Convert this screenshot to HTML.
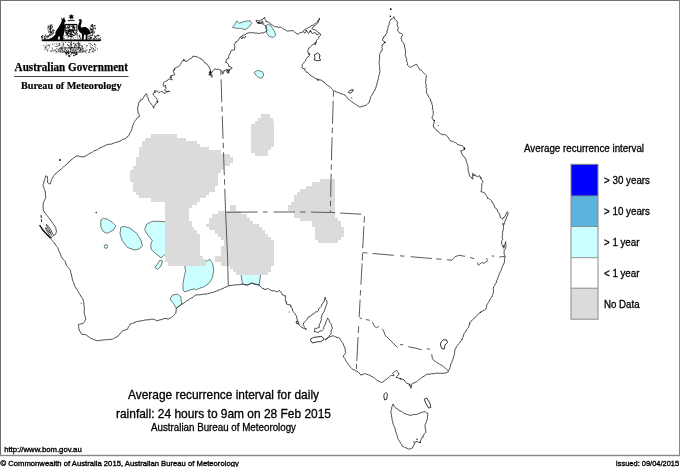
<!DOCTYPE html>
<html>
<head>
<meta charset="utf-8">
<title>Average recurrence interval for daily rainfall</title>
<style>
html,body{margin:0;padding:0;background:#fff;}
body{width:680px;height:467px;overflow:hidden;font-family:"Liberation Sans",sans-serif;}
svg{display:block;position:absolute;left:0;top:0;will-change:transform;}
text{font-family:"Liberation Sans",sans-serif;fill:#000;}
.serif{font-family:"Liberation Serif",serif;font-weight:bold;}
.coast{fill:none;stroke:#1c1c1c;stroke-width:0.8;stroke-linejoin:miter;stroke-miterlimit:2;}
.isl{fill:#fff;stroke:#000;stroke-width:0.8;stroke-linejoin:round;}
.bord{fill:none;stroke:#5a5a5a;stroke-width:1;}
.bsol{fill:none;stroke:#5a5a5a;stroke-width:1;stroke-linejoin:round;}
.bord2{fill:none;stroke:#444;stroke-width:1;stroke-dasharray:9 5;}
.gray{fill:#dbdbdb;stroke:none;}
.cy{fill:#ccffff;stroke:#4c5c5c;stroke-width:0.8;stroke-linejoin:round;}
</style>
</head>
<body>
<svg width="680" height="467" viewBox="0 0 680 467">

<!-- ===== cyan (> 1 year) areas ===== -->
<g class="cy" id="cyan">
<path d="M232.5,27.5 L235,24.2 L236.7,20.8 L239.2,23.3 L245,21.3 L250,20.8 L251.7,23.3 L249.2,26.7 L245,29.7 L240.8,28.3 L236.7,28.3 Z"/>
<path d="M265.8,25.8 L268.3,24.2 L270.8,25.8 L274.2,30.8 L275.8,35 L273.3,37.5 L269.2,36.3 L266.7,33.3 L266.3,29.2 Z"/>
<path d="M254.2,72.5 L257.5,70.3 L262.5,71.7 L263.8,75 L261.7,78.3 L258.3,77.5 L255.8,75 Z"/>
<path d="M100.8,220 L103.3,218.3 L107.5,219.2 L112.5,222.5 L115.8,225.8 L113.3,230 L107.5,233.3 L103.3,231.7 L100.8,226.7 Z"/>
<path d="M120.8,227.5 L124.2,226.3 L130,228.3 L136.7,233.3 L140.8,240 L142.5,246 L139,249 L135,250 L127.5,247.5 L122.5,241 L120,234 Z"/>
<path d="M144.6,229.6 L146.8,224.1 L152.3,221.4 L158,221.3 L167,221.9 L167,254 L164.8,254.5 L161.2,257.8 L156.7,254.4 L151.2,249.5 L150.7,244 L152.3,240.7 L147.9,235.2 Z"/>
<path d="M155,267.5 L160,260 L162.5,261 L161,266 L157.5,269.5 Z"/>
<path d="M186.7,261 L206.7,261 L207.5,260.8 L209.7,259.2 L212.5,263.3 L213.8,270 L212.5,277.5 L209.2,283.3 L204.2,286.7 L198.3,288.7 L195.8,290 L194.2,288.7 L190,290 L185,292 L183,290 L183,283.3 L184.2,276.7 L185.8,270 L184.7,268 Z"/>
<path d="M170,299.2 L172.5,295 L177.5,294.2 L180.8,296.7 L181.7,304.2 L176.3,308.3 L173.3,303.3 Z"/>
<path d="M240.8,273 L260.8,273 L259.2,285 L255,284.2 L251.7,283 L247.5,285 L242.5,284.2 Z"/>
<circle cx="106" cy="246.5" r="1.8"/>
</g>

<!-- ===== NO DATA (grey) areas ===== -->
<g class="gray" id="nodata">
<path shape-rendering="crispEdges" d="M150.5,134.3h26.4v3.25h-26.4zM144.6,137.5h41.0v3.25h-41.0zM141.7,140.7h55.7v3.25h-55.7zM141.7,143.9h58.6v3.25h-58.6zM138.8,147.1h70.3v3.25h-70.3zM138.8,150.3h82.0v3.25h-82.0zM138.8,153.5h90.8v3.25h-90.8zM135.8,156.7h96.7v3.25h-96.7zM135.8,159.9h96.7v3.25h-96.7zM135.8,163.1h93.8v3.25h-93.8zM132.9,166.3h90.8v3.25h-90.8zM130.0,169.5h90.8v3.25h-90.8zM130.0,172.7h87.9v3.25h-87.9zM130.0,175.9h87.9v3.25h-87.9zM130.0,179.1h87.9v3.25h-87.9zM132.9,182.3h85.0v3.25h-85.0zM132.9,185.5h82.0v3.25h-82.0zM132.9,188.7h82.0v3.25h-82.0zM135.8,191.9h73.2v3.25h-73.2zM138.8,195.1h67.4v3.25h-67.4zM150.5,198.3h49.8v3.25h-49.8zM165.1,201.5h32.2v3.25h-32.2zM165.1,204.7h26.4v3.25h-26.4zM165.1,207.9h23.4v3.25h-23.4zM165.1,211.1h23.4v3.25h-23.4zM165.1,214.3h23.4v3.25h-23.4zM165.1,217.5h23.4v3.25h-23.4zM165.1,220.7h26.4v3.25h-26.4zM165.1,223.9h26.4v3.25h-26.4zM165.1,227.1h29.3v3.25h-29.3zM165.1,230.3h32.2v3.25h-32.2zM165.1,233.5h35.2v3.25h-35.2zM165.1,236.7h35.2v3.25h-35.2zM165.1,239.9h35.2v3.25h-35.2zM165.1,243.1h35.2v3.25h-35.2zM165.1,246.3h35.2v3.25h-35.2zM165.1,249.5h35.2v3.25h-35.2zM165.1,252.7h35.2v3.25h-35.2zM165.1,255.9h38.1v3.25h-38.1zM165.1,259.1h41.0v3.25h-41.0zM168.1,262.3h38.1v3.25h-38.1zM320.4,179.1h14.7v3.25h-14.7zM311.6,182.3h23.4v3.25h-23.4zM305.8,185.5h29.3v3.25h-29.3zM299.9,188.7h35.2v3.25h-35.2zM297.0,191.9h38.1v3.25h-38.1zM294.1,195.1h41.0v3.25h-41.0zM294.1,198.3h41.0v3.25h-41.0zM291.1,201.5h44.0v3.25h-44.0zM288.2,204.7h46.9v3.25h-46.9zM288.2,207.9h46.9v3.25h-46.9zM294.1,211.1h41.0v3.25h-41.0zM294.1,214.3h41.0v3.25h-41.0zM299.9,217.5h38.1v3.25h-38.1zM311.6,220.7h29.3v3.25h-29.3zM311.6,223.9h29.3v3.25h-29.3zM314.6,227.1h29.3v3.25h-29.3zM314.6,230.3h29.3v3.25h-29.3zM314.6,233.5h29.3v3.25h-29.3zM314.6,236.7h26.4v3.25h-26.4zM317.5,239.9h20.5v3.25h-20.5zM229.6,204.7h5.9v3.25h-5.9zM229.6,207.9h5.9v3.25h-5.9zM217.9,211.1h23.4v3.25h-23.4zM212.0,214.3h35.2v3.25h-35.2zM209.1,217.5h41.0v3.25h-41.0zM209.1,220.7h44.0v3.25h-44.0zM206.2,223.9h52.7v3.25h-52.7zM209.1,227.1h52.7v3.25h-52.7zM214.9,230.3h49.8v3.25h-49.8zM217.9,233.5h49.8v3.25h-49.8zM220.8,236.7h49.8v3.25h-49.8zM223.7,239.9h49.8v3.25h-49.8zM223.7,243.1h49.8v3.25h-49.8zM220.8,246.3h52.7v3.25h-52.7zM220.8,249.5h52.7v3.25h-52.7zM220.8,252.7h52.7v3.25h-52.7zM214.9,255.9h58.6v3.25h-58.6zM214.9,259.1h58.6v3.25h-58.6zM220.8,262.3h52.7v3.25h-52.7zM229.6,265.5h41.0v3.25h-41.0zM232.5,268.7h38.1v3.25h-38.1zM235.5,271.9h32.2v3.25h-32.2zM260.6,114.3 L270.2,114.3 L270.2,117.9 L272.8,117.9 L272.8,121 L273.7,121 L273.7,146.6 L270.8,146.6 L270.8,150 L267.6,150 L267.6,155.8 L255.4,155.8 L255.4,153.2 L252.2,153.2 L251.3,153.2 L251.3,124.3 L254.8,124.3 L254.8,121 L258,121 L258,117.9 L260.6,117.9 Z"/>
</g>


<!-- ===== state borders ===== -->
<g id="borders">
<path class="bord" stroke-dasharray="23 4 5.5 4" stroke-dashoffset="27.5" d="M220.8,70.3 L222.3,117 L225.6,212.3"/>
<path class="bsol" d="M225.6,212.3 L227.5,255 L228.3,285.8"/>
<path class="bord" stroke-dasharray="23 4 5.5 4" stroke-dashoffset="27" d="M333.5,91.3 L331.7,150 L330.3,212"/>
<path class="bsol" d="M225.5,212.3 L257.5,212 M263,212 L267.4,212 M273.5,212 L295,212 M300,212 L305.5,212 M311,212.1 L334.9,212.6 M340.2,213 L361.2,214.2 M364.5,216.5 L364.1,222.6 M363.9,226.2 L362.7,248.2 M362.9,252.6 L367.4,253 M372.6,253.5 L393.8,255.3 M400,255.8 L404.4,256.2 M410.6,256.7 L431.8,258.5 M436.2,258.9 L441.5,259.3 M446.8,259.8 L452,260.2 M452,260.2 L455,256.7 L459.2,255.3 L465,256.3 M470,257.5 L474.2,258.7 M477.5,262.5 L478.3,265.3 L481.7,262.5 L484.2,263.3 L487.5,260.8 L486.7,258.3 M491.7,255.8 L494.2,256.3 M499.2,257 L505,256.3 M362.6,253.2 L362.2,260.7 M362.1,263.4 L360.9,284.8 M360.6,290 L360.3,295.5 M360.1,299.5 L359.2,317 M358.7,326.3 L358.3,333 M358.1,337 L356.8,361 M356.7,363.8 L356.4,369 M359.6,318.3 L362,318.3 M365.8,319.5 L369.8,320.3 M372.5,322.3 L374.5,326.5 L376.5,327.6 L379,326.5 M381.8,329 L383.3,330 L385,335 L390,340 L395,345 L397.5,347.5 M400,344.7 L403.3,344.7 M408.3,346.7 L415,348 L421.7,349.7 M426.7,348.7 L430,349.2 M431.7,354.2 L432.5,359.2 L436.7,362.5 L443.3,366.3 L448.3,370.8"/>
</g>

<!-- ===== coastline ===== -->
<g id="coast">
<path class="coast" d="M79.2,330 L78.9,328.7 L78.7,327.3 L78.6,326.1 L78.3,324.7 L79.5,324.2 L80.7,323.9 L82.1,323.8 L83.3,323.3 L84,322.3 L84.6,321.3 L85.2,320.2 L85.8,319.2 L85.4,317.7 L85.1,316.3 L84.7,314.7 L84.2,313.3 L84.1,312 L84.3,310.7 L84.3,309.3 L84.3,308 L84.2,306.7 L84,305.3 L83.8,304 L83.8,302.7 L83.4,301.4 L83.3,300 L82.6,298.6 L81.7,297.3 L80.8,296 L80,294.7 L79.2,293.3 L78.4,291.9 L77.5,290.6 L76.7,289.2 L75.9,288 L75,286.7 L74.6,285.3 L74.1,284 L73.6,282.7 L73.1,281.3 L72.5,280 L72.2,278.8 L72.1,277.4 L71.6,276.2 L71.5,275 L71.1,273.7 L70.7,272.2 L70.5,270.9 L70,269.5 L69.1,268.5 L68.2,267.5 L67.3,266.4 L66.3,265.5 L66,264.1 L65.6,262.9 L65.3,261.5 L64.5,260.6 L63.6,259.8 L62.9,258.9 L62,258 L61.3,256.7 L60.8,255.3 L60.4,254 L59.7,252.8 L59.2,251.4 L58.6,250.1 L58.2,248.8 L57.5,247.5 L56.6,246.3 L55.8,245.2 L55,244 L54.2,242.8 L53.2,241.8 L52.2,240.6 L51.4,239.4 L50.7,238.2 L51.6,237.1 L52.6,236.3 L53.6,235.3 L54.6,234.9 L55.5,234.4 L55.9,233.3 L56.2,232.1 L56.5,231 L56,229.8 L55.9,228.4 L55.5,227.2 L54.6,226 L53.9,224.8 L53,223.6 L52.2,222.3 L51.3,221.2 L50.4,220.1 L49.7,218.9 L48.7,217.7 L47.8,216.6 L46.9,215.5 L46.2,214.3 L45.1,213.2 L44.4,212 L43.5,210.8 L43.3,209.6 L43.3,208.3 L43,207 L43.2,205.5 L43.2,204 L43.3,202.5 L44,201.3 L44.5,200 L45.2,198.8 L45.8,197.5 L45.7,196.1 L45.4,194.9 L45.4,193.5 L45.3,192.1 L45,190.8 L44.4,189.6 L44.1,188.3 L43.5,187.1 L43,185.8 L43.3,184.6 L43.7,183.4 L43.8,182 L44.2,180.8 L44.7,179.5 L45,178.2 L45.5,177.1 L45.8,175.8 L46.7,176.3 L47.5,176.7 L47.5,178.2 L47.6,179.6 L47.6,181 L47.5,182.5 L48.7,183.4 L50,184.2 L50.5,183 L51,181.7 L51.4,180.4 L51.7,179.2 L52.6,178 L53.2,176.6 L54.1,175.4 L55,174.2 L56,173.4 L57,172.5 L58,171.7 L59,170.8 L60,170 L61.2,169 L62.3,168 L63.5,167 L64.6,165.9 L65.8,165 L67.1,164.1 L68,163.2 L69,162 L70.3,161 L71.1,159.8 L72.4,158.9 L73.6,158 L74.9,157.2 L76,156 L77.3,155.9 L78.6,156.1 L80,156.5 L81.4,157 L82.7,156.6 L84,157 L85.1,156.2 L86.4,155.5 L87.6,154.9 L88.7,154 L90,153.2 L91.3,152.8 L92.5,152 L93.6,151.1 L95,150.6 L96.3,150.2 L97.6,149.5 L98.7,148.6 L100,148 L101.3,147.4 L102.5,146.8 L103.7,146.3 L105.1,145.7 L106.1,144.9 L107.5,144.5 L109,144.2 L110.3,144.3 L111.7,144 L113,143.5 L114.3,142.9 L115.8,142.3 L117.3,142.1 L118.7,141.7 L120,141 L121.2,140.6 L122.2,139.8 L123.2,139.3 L124.5,139 L125.7,138.4 L126.6,137.2 L128,136.5 L128.9,135.6 L129.2,134 L130,132.9 L130.8,132 L131.3,130.7 L131.8,129.6 L132.1,128.4 L132.3,127 L132.9,125.9 L133.2,124.8 L133.5,123.5 L134.2,122.5 L134.4,121.4 L135.2,120.5 L136.3,119.5 L136.7,118.5 L137.7,117.4 L139,116.9 L139.7,115.7 L139.1,114.5 L138.5,113.1 L137.7,111.9 L138.2,110.2 L137.2,109 L137.8,107.9 L138.1,106.3 L138.4,105 L138.5,103.6 L138.8,102.3 L140,101.8 L140.5,99.9 L142.2,99.6 L142.8,98.2 L143.8,97.3 L144.3,96 L145.2,94.7 L146.3,93.7 L147,94.9 L147.2,96.8 L148.1,97.9 L148.5,99.4 L148.8,100.7 L149.5,101.9 L150.6,102.8 L151.3,104.4 L152.4,105.4 L153.2,106.9 L153.8,108.2 L154.1,106.4 L154.9,105.3 L155.5,104 L156.4,103 L157.5,102.6 L158,101.5 L157.3,100.4 L157.1,99.2 L156.3,98 L155.5,97.3 L154.7,96.3 L153.5,95.2 L153,94 L153.9,92.8 L154.5,92.1 L154.7,90.7 L156.1,90.8 L157.7,91.5 L158.8,92.3 L160.2,92.4 L161.2,91.4 L162.2,91.5 L163.1,92.2 L163.8,93.2 L165.2,93.1 L166.8,91.8 L168.1,91.7 L169.7,91.5 L168.4,91.2 L167.2,91.7 L165.9,91 L164.7,90.7 L165.2,89.2 L166.3,88.2 L165.6,87 L164.3,86.6 L163,85.7 L163.3,84.1 L163.8,82.6 L164.7,81.5 L165.8,81.4 L167,80.7 L168.1,79.8 L168.8,79 L170.1,79 L171.2,79.7 L172.2,79.8 L171.3,78.4 L171.5,76.8 L170.5,75.7 L171.7,75.5 L173.2,75.1 L174.7,74.8 L174.3,73.3 L173.7,72.2 L173,70.7 L174.3,69.6 L175.1,68 L176.3,67.3 L177.3,67 L178.6,66.8 L179.7,65.7 L180.1,64.4 L180.9,63.5 L181.3,62.3 L182.2,61.6 L182.7,60.6 L183.8,59.8 L185.1,60.4 L185.5,61.5 L186.8,61.2 L187.8,60.7 L188.8,59.8 L189.9,58.8 L191.3,58.2 L192.4,57.5 L193,56 L194,56.2 L195.1,56.6 L196.3,56.5 L197.5,56.9 L198.7,57.7 L199.7,58.2 L201,59 L202,59.4 L202.9,60.2 L203.8,61.5 L204.8,62.9 L206.2,63.3 L207.2,64.8 L208.2,65.6 L208.7,66.8 L209.7,67.3 L209.8,68.6 L210.3,69.9 L210.5,71.5 L209.9,72.6 L209.7,73.8 L208.8,74.8 L209.6,74.8 L210.5,74 L210.8,75.4 L211.1,76.4 L212.2,77.3 L212,76 L211.9,74.5 L211.8,73.6 L211.3,72.3 L212.4,71.8 L213.1,70.6 L213.8,69.8 L215.2,68.9 L216.6,69.5 L218,69 L219.1,69.6 L220.4,69.8 L221.3,70.7 L222.4,71.5 L222.3,73 L223,74 L223.4,72.7 L223.9,72.1 L223.8,70.7 L225.1,70.7 L225.9,69.6 L227.2,69.8 L227.9,70.6 L228.3,72.3 L228.8,73.2 L228.9,71.6 L229.6,70.6 L229.7,69 L231.1,69 L232.2,68.2 L231.2,67.1 L230.1,66.8 L228.8,66.5 L228.7,64.9 L228,64 L227,62.8 L225.5,62.3 L226.2,61.2 L226.3,59.8 L227.1,58.7 L228.8,58.2 L228.6,56.8 L229,55.3 L229.7,54 L230.4,53 L230.5,51.8 L231,50.8 L232.2,50.1 L233.7,50.2 L235,49.5 L234.4,48 L235,46.8 L234.4,45.4 L234.4,44 L235.4,43.2 L235.8,41.7 L237.4,41.4 L238.3,40 L239,39 L239.6,37.7 L240.8,36.7 L242,36.1 L243.2,35.1 L245,35 L245.8,34 L246.6,33.4 L248.1,33.1 L249.2,32.5 L250.4,32.9 L252.1,32.8 L253.8,32.6 L255,33.3 L256.3,33 L257.7,33.3 L259.3,33.4 L260.8,33.3 L261.6,32.6 L263,33.1 L264.2,32.5 L265.6,31.9 L266.7,30.8 L267,29.6 L266,28.5 L266.4,26.9 L265.8,25.8 L264.6,25.3 L263.3,24.2 L261.8,23.6 L260.8,23.5 L259.2,23.3 L257.9,23 L256.9,22.1 L255.8,20.8 L257,20.1 L258.2,20.9 L259.6,20.8 L260.8,20 L262.2,19.6 L263,19.3 L263.9,17.9 L265,17.5 L264.7,18.8 L265.8,20.4 L265.8,21.7 L267,21.5 L268.2,22.1 L269.2,22.5 L269.9,23.6 L271.3,24.5 L272.5,25 L273.4,25.9 L274.4,26.6 L275.8,26.7 L277.2,26.8 L278.7,27.4 L280.1,27 L281.7,27.5 L282.8,28.6 L284,29.3 L285.3,29.9 L286.7,30.8 L287.8,31.1 L289.5,30.8 L290.5,31 L292.1,30.5 L293.3,30.8 L294.6,31.9 L295.5,32.9 L296.9,33.8 L298.3,34.2 L299.2,33.4 L300.1,32.5 L301.6,32.9 L302.5,31.7 L303.6,31 L304.8,29.5 L305.9,29 L307.5,28.3 L308.5,27.2 L309.7,27.2 L311,25.9 L312,25.4 L313.3,25 L314.4,24 L315.6,23.4 L316.4,22.7 L317.5,21.7 L317.7,20.5 L319.1,19.6 L319.5,18 L319.4,19.7 L318.6,20.8 L318.3,21.9 L317.5,23.2 L316.7,24.2 L315.6,25 L314.4,25.7 L313.8,26.8 L312.9,27.4 L311.7,28.3 L313,29.3 L314.2,29.7 L315.8,30 L316.8,31 L317.5,32 L318.9,32.9 L320.2,33.7 L320.8,35 L319.8,35.8 L319,37 L318.6,38.3 L317.5,39.2 L316.4,40.3 L316.5,41.8 L315.8,43.3 L315.1,44.1 L313.4,44.2 L312.3,44.9 L311.7,45.8 L310.6,46.7 L310,47.4 L308.6,48.1 L308.3,49.2 L307.8,50.6 L308,51.9 L308.3,53.3 L309,54.4 L310,54.2 L309.2,55.5 L308.8,56.3 L307.4,57 L306.7,58.3 L305.8,59.5 L305.4,61.1 L304.4,62 L303.4,63.2 L302.5,64.2 L302,65.1 L302.5,66.4 L301.7,67.5 L302.6,68.1 L304.1,68.9 L304.8,70.3 L305.8,70.8 L306.6,72.4 L307.9,72.7 L309.1,73.8 L310,75 L311.2,75.9 L312.7,76.6 L313.9,77.3 L315,78.3 L316.5,79.2 L317.8,78.9 L319,79.9 L320.8,80 L322.1,80.5 L322.7,81.6 L324.2,82 L325,83.3 L326.2,84.2 L327.4,85.2 L328.6,86 L330,86.7 L330.9,87.6 L331.7,88.7 L332.6,89.7 L333.3,90.8 L334.7,91.1 L336.1,91.7 L337.3,92.3 L338.7,92.6 L340,93.3 L341.3,93.8 L342.5,94.3 L343.7,94.5 L345,95 L345.8,96.2 L346.7,97.1 L347.4,98.1 L348.3,99.2 L349.5,99.9 L350.7,100.9 L351.7,101.8 L353,102.6 L354.2,103.3 L355.4,104.3 L356.7,105.1 L358,105.9 L359.2,107 L360.7,106.8 L362.1,106.4 L363.5,106 L365,105.8 L366.1,105.1 L367.2,104.3 L368.1,103.3 L369.2,102.5 L369.6,101 L370.1,99.6 L370.4,98.2 L370.8,96.7 L371.7,95.4 L372.5,94 L373.4,92.7 L374,91.2 L375,90 L375.4,88.6 L376,87.2 L376.3,85.9 L376.8,84.6 L377.1,83 L377.5,81.7 L377.8,80.3 L378.4,78.8 L378.5,77.4 L378.8,76 L379.2,74.5 L379.5,73.1 L380,71.7 L379.8,70.4 L379.7,68.9 L379.7,67.5 L379.6,66.2 L379.2,64.6 L379.2,63.3 L379.1,61.9 L379.4,60.5 L379.6,59.1 L379.6,57.5 L379.6,56.1 L379.5,54.5 L380,53.3 L380.8,52.3 L380.8,51.2 L382.1,50.5 L382.5,49.2 L381.8,47.7 L382.4,46.5 L381.7,45 L383.1,44.6 L383.7,43.3 L385,42.5 L383.9,41.6 L383.3,41.1 L382.5,40 L382.7,38.8 L383.8,37.4 L384,36.4 L385.7,35.4 L385.8,34.2 L386.9,33.1 L386.9,31.1 L387.5,30 L387.8,28.6 L387.9,27.5 L388.4,25.8 L389.2,24.7 L389.2,23.3 L389.7,21.9 L390.2,20.5 L390.8,19.2 L392.1,18.8 L393.3,17.5 L394.2,16.7 L394.3,17.8 L394.8,19.3 L395.8,20 L396.7,20.8 L397.2,21.8 L397.5,23.3 L397.1,24.7 L397.3,26 L398.5,27.6 L397.7,29.2 L397.9,30.3 L398.3,31.7 L399,32.6 L400.3,33.2 L401.7,33.6 L402.5,34.7 L402.1,36 L401.5,37.1 L400.8,38.3 L401.6,39.3 L401.7,40.9 L402.4,41.8 L403.3,42.5 L404,44.1 L404.4,45.1 L404.6,47 L405,48.3 L405.3,49.8 L405.5,51.3 L405.5,52.5 L405.5,54.1 L405.1,55.4 L405.8,56.7 L406.2,58.1 L406.9,59.3 L406.3,61.1 L407.5,62.3 L407.4,63.8 L407.5,65 L408.3,65.6 L409.3,66.8 L410,67.5 L411.5,66.7 L412.7,66.4 L413.9,65.3 L415.3,64.8 L416.7,64.2 L417.2,65.7 L417.8,66.6 L418.8,67.7 L419.2,69.2 L420,70 L421.5,70.4 L422.3,71.3 L423.3,72.5 L424.5,73.8 L425.6,74.8 L426.7,75.8 L426.1,77.4 L425.9,78.7 L426,80.1 L425.5,81.7 L425.8,83.3 L426,84.9 L426.3,86 L425.8,87.7 L426.8,88.7 L426.6,90.2 L426.2,91.8 L426.7,93.3 L427.7,94.5 L428.3,96 L429.1,97.5 L429.9,98.5 L430.8,100 L430.6,101.6 L432,102.5 L431.6,104.3 L432.6,105 L432.5,106.7 L432.7,108 L432.4,109.6 L433.2,110.6 L433.1,112.2 L433.3,113.3 L433.1,114.8 L432.7,116.3 L431.7,117.5 L432.9,118.4 L432.9,119.6 L433.9,120.3 L434.2,121.7 L433.9,123.2 L433.6,124.3 L433.3,125.8 L433.7,127.4 L434.9,128.2 L436.2,129.6 L436.7,130.8 L438.2,131.3 L439.1,132.6 L440.4,133.7 L441.7,134.2 L443.1,134.9 L444.3,134.3 L445.8,135 L446.7,135.9 L447.9,137 L448.7,138.1 L449.2,139.2 L450,140.4 L451.4,141.2 L453,141.3 L454.2,142.5 L455.7,142.6 L456.9,143.7 L457.6,144.6 L459.2,145 L460.6,145.4 L462,145.7 L463.3,146.7 L464.4,147.9 L465,149.2 L463.8,149.8 L462.3,150.6 L460.8,150.8 L461.2,152.1 L461.7,153.6 L462.5,155 L463.2,156.2 L464.5,157 L465.1,158.1 L465.8,159.2 L466.1,160.5 L466.6,161.5 L466.8,163.2 L467.5,164.2 L467.7,165.7 L468.2,167.3 L467.9,168.4 L468.3,170 L468.2,171.5 L469,172.7 L469,173.6 L469.2,175 L469.8,176.1 L470.7,177.3 L472.1,177.9 L472.5,179.2 L472.9,177.7 L472.5,176.1 L472.4,174.8 L472.5,173.3 L473.8,174.3 L475,174.6 L476.1,176.1 L477.5,176.7 L478.8,176 L480,175.8 L480.2,177.3 L480.8,178.7 L481.6,179.6 L482.5,180.8 L482.9,182.4 L481.8,183.6 L481.9,185.3 L481.7,186.7 L481.8,188.1 L481.2,189.1 L481.5,190.6 L480.8,191.7 L482.4,192.1 L483.7,192.4 L485,193.3 L485.9,194.3 L486.1,195.7 L487.3,196.8 L487.5,198.3 L488.7,198.6 L489.6,199.1 L490.8,200.3 L491.7,200.8 L491.9,202.3 L493,203.1 L493.8,204.4 L494.2,205.8 L494.5,207 L495.4,208.2 L496.7,208.8 L497.5,210 L497.6,211.5 L498.7,212.9 L499.7,214.1 L500,215.8 L500.4,217.4 L501.6,218.4 L502.5,219.2 L503,217.8 L504.3,217.4 L505.1,215.8 L505.8,215 L506.2,213.7 L506.6,212.5 L507.5,211.7 L508,212.9 L508,214.2 L507.5,215.9 L506.6,217 L506.2,218.4 L505.8,220 L504.9,221.2 L504.5,222.9 L504.1,224.2 L503.3,225.8 L503.7,227.1 L503.3,228.3 L503.4,229.7 L502.9,231 L502.3,232.1 L502.5,233.3 L502.7,234.3 L502.4,235.9 L502,236.9 L502.5,238.3 L502.7,239.8 L501.8,240.7 L501.6,241.8 L501.7,243.3 L502.1,244.6 L502.3,245.7 L503.3,247 L503.3,248.3 L504.2,247.3 L503.7,245.6 L505.1,244.5 L505.3,242.8 L505.8,241.7 L505.7,242.8 L505.6,244 L506.1,245.5 L505.8,246.7 L505.8,247.9 L505,249.1 L504.1,250.1 L504.2,251.7 L504,253 L504.2,254.2 L504.7,255.4 L505,256.7 L504.9,258.2 L504.5,259.5 L504.5,261.1 L504.2,262.5 L503.8,264 L502.9,265.4 L502.3,266.8 L501.7,268.3 L501.4,269.7 L500.7,271.1 L500,272.4 L499.3,273.9 L498.8,275.3 L498.3,276.7 L497.8,278 L497.4,279.3 L496.7,280.6 L496.5,282.1 L495.8,283.3 L495.1,284.6 L494.6,285.7 L493.7,286.9 L493.3,288.3 L493.4,289.6 L493.5,290.8 L493.3,292 L493.3,293.3 L492.5,294.4 L492.3,295.9 L491.6,297.2 L490.8,298.3 L489.8,299.6 L489.3,301.1 L488.4,302.4 L487.6,303.7 L486.7,305 L486.6,306.5 L486.3,307.9 L485.8,309.2 L484.7,310.1 L483.6,310.6 L482.3,311.1 L481.1,311.7 L480,312.5 L479,313.4 L477.8,314.5 L476.8,315.4 L475.8,316.7 L475,317.8 L473.7,318.5 L472.8,319.5 L472,320.6 L471,321.4 L470,322.5 L469.7,323.8 L469.3,325 L468.8,326.3 L468.3,327.5 L467.4,328.7 L466.5,329.7 L466,331 L465.2,332.2 L464.2,333.3 L463.7,334.6 L463.3,336 L462.9,337.3 L462.2,338.6 L461.7,340 L460.7,340.9 L460.1,342.1 L459.3,343.3 L458.3,344.2 L457.4,345.4 L456.6,346.6 L456,348 L455,349.2 L454.9,350.7 L454.5,352.1 L454.6,353.6 L454.2,355 L453.7,356.5 L453.2,358 L452.8,359.5 L452.1,361 L451.7,362.5 L451.1,363.6 L450.6,365 L450.3,366.3 L450,367.5 L449.6,369 L448.7,370.2 L448.3,371.7 L447.1,372.2 L446.1,372.9 L445,373.3 L443.5,373.1 L442,373.5 L440.4,373.1 L438.9,373.4 L437.4,373 L435.8,373.3 L434.3,373.7 L433.1,373.7 L431.7,373.5 L430.2,374.2 L429,374.2 L427.5,374.2 L426.3,374.6 L425.1,375.3 L424.1,376.2 L422.8,376.8 L421.7,377.5 L420.7,378.4 L419.7,379.3 L418.5,379.9 L417.7,380.6 L416.7,381.7 L415.4,382.3 L413.9,383 L412.5,383.3 L411.8,384.6 L411.6,385.7 L411.3,387 L410.8,388.3 L410.8,386.9 L410.1,385.5 L410,384.2 L408.8,384 L407.7,383.7 L406.7,383.3 L405.6,382.3 L405,381.2 L404.2,380 L402.8,379.4 L401.4,379.2 L400,378.5 L398.8,378.2 L397.4,377.6 L396,377.5 L396.9,376.3 L397.9,375.2 L399.2,374.2 L398.4,372.9 L397.5,371.7 L396.7,370.3 L395.6,371.1 L394.6,371.9 L393.6,372.5 L392.5,373.3 L393.5,374.5 L394,375.7 L393,375.6 L391.8,375.6 L390.8,375.5 L389.8,376.5 L388.9,377.3 L387.7,378.3 L386.7,379.2 L385.5,380 L384.2,380.9 L383,381.9 L381.7,382.5 L380.3,382 L379,381.4 L378,380.8 L376.7,380 L375.5,379.1 L374.4,378.1 L373.4,377.3 L372,376.8 L370.8,375.8 L369.5,375.2 L368.1,374.8 L366.9,374.2 L365.6,373.9 L364.2,373.7 L363.1,374.4 L362.1,374.8 L360.8,375 L360,373.8 L358.9,372.9 L357.6,371.9 L356.7,370.8 L355.5,370.8 L354.6,370 L353.3,370 L352.2,368.8 L351.1,367.7 L350,366.7 L349.3,365.5 L348.2,364.4 L347.7,363.1 L346.7,362 L345.8,360.8 L345.4,359.5 L344.5,358.3 L343.7,357.1 L343.3,355.8 L344.3,355.1 L345,354.2 L345.3,353.5 L345.8,352.8 L345.3,351.2 L345.2,349.8 L345,348.3 L344.4,346.8 L343.7,345.5 L343.2,343.8 L342.5,342.5 L341.6,341.7 L341,340.3 L340.1,339.5 L339.6,338.2 L338.3,337.5 L337.1,337.5 L335.7,336.8 L334.3,336.3 L333.3,335.8 L332,336 L330.7,336.5 L329.5,336.9 L328.3,337.5 L327.2,338.3 L326,338.8 L325,340 L326,339.7 L326.8,339.1 L327.5,338 L328.3,337.1 L329.2,336.4 L329.6,335.1 L330.8,334.2 L331.3,332.7 L331,331.2 L331.8,329.5 L332.5,328.3 L332,327 L331.4,325.8 L331.6,324.4 L330.8,323.3 L329.5,322.3 L329.3,320.8 L328.7,319.2 L327.5,318 L327.2,319.5 L326.4,320.8 L325.6,322.1 L325.7,323.5 L325,325 L324.3,326.2 L323.7,327.4 L323.8,328.8 L322.5,330 L321.6,330.9 L319.8,330.9 L318.8,332.2 L317.5,332.5 L316.6,332.1 L315.5,331.7 L314.2,331.7 L315,330.9 L314.5,329.5 L315,328.3 L316.6,328.4 L317.7,327.9 L319.2,327.5 L319.4,326 L319.2,324.4 L320,323.3 L320.8,321.9 L320.9,320.7 L321.5,319.6 L321.1,318.1 L321.7,316.7 L321.9,315.2 L322.3,314 L323.2,312.9 L324,312 L324.2,310.8 L325,309.8 L325,308 L325.8,306.7 L326.1,305.2 L327.1,303.9 L327,302.5 L326.9,300.9 L325.8,299.9 L325.7,298.3 L325,297.2 L324.9,298.7 L324.4,300 L324.2,301.7 L323.1,302.3 L322.4,303.8 L321.7,305 L321.3,306.4 L320.3,307.5 L319.2,308.3 L318.5,309.6 L318.3,310.8 L317.2,311.9 L315.6,311.9 L314.7,312.5 L313.8,313.9 L312.5,314.2 L311.6,315.4 L310.3,315.9 L309.7,316.7 L308.1,317.2 L307.5,318.3 L306.8,319.6 L305.8,320.8 L305,321.7 L303.6,322.8 L303.3,324.2 L303.3,325.3 L304.3,326.4 L304.2,327.5 L305.3,328.7 L306.7,329.2 L305.4,329.2 L304.5,328.6 L303.3,328.3 L302.1,327.4 L300.8,326.7 L299.8,325.6 L299.3,324.7 L297.7,324 L296.9,323.2 L295.8,322.5 L296.6,323.1 L298,323.4 L299.2,323.3 L298.5,322.1 L297.5,320.8 L297.3,319.5 L296.7,318 L296.7,316.2 L295.8,315 L294.9,313.7 L294,312.6 L292.9,311.3 L292.5,310 L292.3,308.5 L291.1,307.5 L290.7,306.4 L290.8,305 L289.6,304.8 L287.9,304.5 L286.7,304.2 L286.3,302.8 L285.9,301.3 L285,300 L285.7,298.7 L285.1,296.9 L285.8,295.8 L284.7,296.1 L283.9,295 L282.5,295 L281.8,293.8 L281.4,292.9 L280.8,291.6 L280,290.8 L278.5,291 L277.3,291.6 L275.8,291.7 L274.5,290.6 L273.3,290.8 L272,290.9 L270.5,290 L269.6,289.6 L268.3,288.7 L267.2,288.8 L265.9,289 L265,290 L264.1,288.7 L262.5,288.5 L261.7,287.5 L260.9,286.7 L259.8,286 L259.2,285 L257.8,284.7 L256.5,284.3 L255,284.2 L254,283.9 L252.7,283.4 L251.7,283 L250.4,283.6 L248.9,284.5 L247.5,285 L246.2,284.9 L244.9,284.8 L243.7,284.3 L242.5,284.2 L241.1,284.4 L239.5,284.7 L238.1,284.9 L236.4,284.7 L235,285 L233.6,285 L232.2,285.3 L231,285.4 L229.7,285.7 L228.3,285.8 L227.2,286.6 L225.9,287 L224.4,287.5 L223.3,288.3 L221.8,288.8 L220.5,289.6 L219.1,289.8 L217.8,290.8 L216.3,291 L215,291.7 L213.6,292.1 L212.2,292.6 L210.7,292.8 L209.3,293.3 L207.8,293.7 L206.4,294 L205,294.2 L203.4,294.2 L201.9,294.5 L200.3,294.7 L198.8,294.9 L197.4,294.8 L195.8,295 L194.5,295.6 L193.5,296.8 L192.2,297.7 L190.7,298.3 L189.5,299.2 L188.3,300 L186.9,300.7 L185.7,301.7 L184.4,302.7 L183.1,303.5 L181.7,304.2 L180.7,305.1 L179.5,305.8 L178.6,306.8 L177.4,307.4 L176.3,308.3 L176.1,309.6 L176.1,310.9 L175.9,312.1 L175.8,313.3 L174.7,314.5 L173.6,315.5 L172.5,316.7 L171.4,317.3 L170.4,318 L169.2,318.4 L168.3,319.2 L167.3,318.8 L166.1,318.6 L165,318.5 L163.7,318.6 L162.2,319.4 L160.8,319.7 L159.5,320 L158.1,320.4 L156.7,320.8 L155.7,320 L154.5,319.6 L153.3,319.2 L151.9,319.2 L150.4,319.4 L149.1,319.8 L147.8,319.7 L146.5,319.9 L145,320 L143.6,320.4 L142.1,320.5 L141,321 L139.5,321.2 L138.1,321.3 L136.7,321.7 L135.3,322.1 L134,322.8 L132.7,323.3 L131.4,323.8 L130,324.2 L129.4,325.5 L128.7,326.7 L128,327.9 L127.5,329.2 L126.3,329.7 L125,329.9 L123.8,330.5 L122.5,330.8 L121.6,331.7 L120.8,332.8 L120,333.8 L119,334.7 L118.3,335.8 L117.1,336.5 L116,337.2 L114.8,337.8 L113.6,338.5 L112.5,339.2 L111.1,339.4 L109.9,339.3 L108.4,339.6 L107.1,339.7 L105.8,339.7 L104.5,339.9 L103.1,340 L101.7,340.1 L100.2,340.3 L98.9,340.7 L97.5,340.8 L96.1,340.4 L94.8,339.9 L93.4,339.4 L92.1,338.9 L90.8,338.3 L89.5,337.4 L88.2,336.5 L87,335.6 L85.8,334.7 L84.5,334.4 L83,334.5 L81.7,334.2 L81,333.1 L80.5,332.1 L79.8,331.1 Z"/>
<path class="coast" d="M393,404 L392.5,405.3 L392,406.6 L391.6,408 L391.7,409.3 L391,410.5 L390.9,412.1 L391.1,413.6 L391.5,415.2 L391.6,416.9 L392.1,418.3 L392,420 L392.7,421.6 L392.8,423 L393.3,424.5 L393.9,425.9 L394.8,427.5 L395,429 L395.6,430.2 L395.6,431.9 L396.4,433.1 L396.7,434.5 L397.3,435.8 L397.5,437.3 L398,438.5 L398.4,439.8 L399.4,440.9 L400.1,442.1 L400.8,443.5 L401.6,444.6 L402,446 L403.3,446.5 L404.5,447.4 L405.9,447.7 L407.1,448.5 L408.5,449 L409.8,449 L411.3,448.5 L412.5,448 L413,446.5 L413.8,445.3 L414.3,444.1 L415.2,442.6 L416,441.5 L417.4,441.7 L418.7,442.4 L420,442.5 L420.4,441.2 L421,439.9 L421.3,438.6 L422,437.5 L423,436.4 L423.4,435 L424.2,434.1 L425.3,433.1 L426,432 L425.6,430.4 L425.5,429 L425.2,427.6 L425,426 L425.2,424.5 L426.1,422.9 L426.3,421.5 L427,420 L427.5,418.7 L427.3,417.5 L427.7,416 L427.8,414.8 L428,413.5 L426.8,413 L425.8,412.4 L425,411.5 L423.5,411.8 L421.9,412.4 L420.4,412.9 L419,413.5 L417.7,414.1 L416.1,414.4 L414.8,414.6 L413.2,414.6 L411.9,414.9 L410.5,415.5 L408.9,415 L407.5,414.5 L406.1,414.1 L404.5,413.5 L403.1,412.7 L402,411.6 L400.6,411.1 L399.2,410.5 L398,409.5 L396.9,408.5 L395.6,407.9 L394.5,407 L394.1,405.9 L393.6,404.9 Z"/>
<path class="isl" d="M384.2,394.2 L385.8,392.5 L387.5,394.2 L386.7,399.2 L384.7,400 L383.8,396.7 Z"/>
<path class="isl" d="M424.2,399.2 L426.7,398 L430,403.3 L430.8,407.5 L428.5,408 L426,403.5 Z"/>
<path class="isl" d="M310.5,339.2 L313.3,337.5 L321.7,336.3 L324.2,339.2 L320.8,341.7 L317.5,341.7 L312.5,343 L310.8,340.8 Z"/>
<path class="isl" d="M314.2,55 L317.5,53 L320,55 L319.2,58.3 L320.8,60 L318.3,60.8 L314.2,60 L315,57.5 Z"/>
<path class="isl" d="M348.3,92.5 L350,90.3 L353.3,89.7 L352.5,91.7 L350,93.3 Z"/>
<path class="isl" d="M440.8,342.5 L443.3,339.7 L446.7,340 L447.5,342.5 L445,345 L444.2,349.2 L441.7,348.3 L440.5,345 Z"/>
<path d="M39.6,225.2 L42.5,229.5 L45.5,233 L48,235.5 L50.7,238.2" stroke="#000" stroke-width="1.3" fill="none"/><path class="coast" d="M53.6,235.3 L52.2,233 L50.7,229.6 L47.8,225.7 L46.4,224.3 L46.9,226.7 L49.3,230 L50.7,233 L51.5,235.5 M50.7,233 L49.3,232.5 L47.3,229.6 L45.9,227.6 L45.5,228.5 L47.5,232 L49.5,235 L50.7,236.5"/><path d="M41.1,215.1 L41.3,218 M41.4,219.2 L41.6,221.9" stroke="#000" stroke-width="0.9" fill="none"/>
<path class="coast" d="M256.5,21.5 L258,23.4 L259.5,21.6 L261,23.5 L262.5,21.8 L264,23.8 M303,31.5 L305,33.2 L306.5,30.5 L308.5,33.5 L310.5,30.8 L312.5,34 L314.5,32 L317,35 L319.3,33.6 M240.5,37 L242,38.8 L243,36.6 L244.5,38.3 L246,36 M316.5,42 L314.5,43 L315.8,45 M226,70.5 L228,73.5 M229.5,70.5 L227.5,73 M209,72 L211,75.5 M211.5,72.5 L209,75"/>
<circle cx="183.8" cy="60.3" r="0.8" fill="#000"/>
<circle cx="174.5" cy="69.5" r="0.7" fill="#000"/>
<circle cx="170.5" cy="77.3" r="0.7" fill="#000"/>
<circle cx="165.5" cy="85.7" r="0.7" fill="#000"/>
<circle cx="155" cy="92.3" r="0.7" fill="#000"/>
<circle cx="157.2" cy="101.8" r="0.8" fill="#000"/>
<circle cx="210.3" cy="72" r="0.9" fill="#000"/>
<circle cx="228" cy="70.2" r="0.9" fill="#000"/>
<circle cx="259" cy="22.8" r="0.8" fill="#000"/>
<circle cx="262" cy="21.5" r="0.7" fill="#000"/>
<circle cx="310.5" cy="31" r="0.8" fill="#000"/>
<circle cx="306" cy="30.5" r="0.6" fill="#000"/>
<circle cx="309" cy="53.8" r="0.7" fill="#000"/>
<circle cx="318" cy="80" r="0.8" fill="#000"/>
<circle cx="385" cy="42.3" r="0.8" fill="#000"/>
<circle cx="383.5" cy="37.5" r="0.6" fill="#000"/>
<circle cx="464.3" cy="148.5" r="0.9" fill="#000"/>
<circle cx="474" cy="175.5" r="0.7" fill="#000"/>
<circle cx="481" cy="178" r="0.7" fill="#000"/>
<circle cx="503" cy="224" r="0.8" fill="#000"/>
<circle cx="504" cy="246" r="0.7" fill="#000"/>
<circle cx="414" cy="442" r="0.7" fill="#000"/>
<circle cx="417" cy="439.3" r="0.7" fill="#000"/>
<circle cx="420.3" cy="442.3" r="0.7" fill="#000"/>
<circle cx="423" cy="437" r="0.6" fill="#000"/>
<circle cx="297" cy="321.5" r="0.8" fill="#000"/>
<circle cx="286.5" cy="302" r="0.6" fill="#000"/>
<circle cx="291" cy="306" r="0.5" fill="#000"/>
<circle cx="480.5" cy="312.3" r="0.6" fill="#000"/>
<circle cx="469.5" cy="323" r="0.6" fill="#000"/>
<circle cx="462" cy="339.5" r="0.5" fill="#000"/>
<circle cx="390.8" cy="9.2" r="0.9" fill="#000"/>
<circle cx="390.3" cy="16.3" r="0.8" fill="#000"/>
<circle cx="351.7" cy="98" r="0.6" fill="#000"/>
<circle cx="305" cy="68.3" r="0.5" fill="#000"/>
<circle cx="438.3" cy="125.5" r="0.5" fill="#000"/>
<circle cx="434.4" cy="120.6" r="0.7" fill="#000"/>
<circle cx="289.2" cy="312" r="0.5" fill="#000"/>
<circle cx="96.2" cy="212.5" r="0.7" fill="#000"/>
<circle cx="81.3" cy="303.3" r="0.4" fill="#000"/>
<circle cx="60" cy="160" r="0.9" fill="#000"/>
<circle cx="81" cy="303" r="0.4" fill="#000"/>
<circle cx="400.5" cy="378.8" r="0.8" fill="#000"/>
<circle cx="409.6" cy="385.3" r="0.7" fill="#000"/>
</g>

<!-- ===== legend ===== -->
<g id="legend">
<rect x="571" y="164.3" width="27" height="31.6" fill="#0000ff"/>
<rect x="571" y="195.9" width="27" height="30.6" fill="#5ab4dc"/>
<rect x="571" y="226.5" width="27" height="31.2" fill="#ccffff"/>
<rect x="571" y="257.7" width="27" height="30.5" fill="#ffffff"/>
<rect x="571" y="288.2" width="27" height="31" fill="#dbdbdb"/>
<path d="M571,195.9 H598 M571,226.5 H598 M571,257.7 H598 M571,288.2 H598" stroke="#777" stroke-width="0.8" fill="none"/>
<rect x="571" y="164.3" width="27" height="154.9" fill="none" stroke="#8a8a8a" stroke-width="1"/>
<text x="524" y="151.8" font-size="10.4" textLength="120" lengthAdjust="spacingAndGlyphs" stroke="#000" stroke-width="0.3">Average recurrence interval</text>
<text x="604" y="183.9" font-size="10.2" textLength="46" lengthAdjust="spacingAndGlyphs" stroke="#000" stroke-width="0.3">&gt; 30 years</text>
<text x="604" y="214.9" font-size="10.2" textLength="46" lengthAdjust="spacingAndGlyphs" stroke="#000" stroke-width="0.3">&gt; 10 years</text>
<text x="604" y="245.9" font-size="10.2" textLength="35.4" lengthAdjust="spacingAndGlyphs" stroke="#000" stroke-width="0.3">&gt; 1 year</text>
<text x="604" y="276.9" font-size="10.2" textLength="35.4" lengthAdjust="spacingAndGlyphs" stroke="#000" stroke-width="0.3">&lt; 1 year</text>
<text x="604" y="307.9" font-size="10.2" textLength="35.6" lengthAdjust="spacingAndGlyphs" stroke="#000" stroke-width="0.3">No Data</text>
</g>

<!-- ===== titles ===== -->
<g id="titles">
<text x="128" y="398.8" font-size="12.2" textLength="191" lengthAdjust="spacingAndGlyphs" stroke="#000" stroke-width="0.3">Average recurrence interval for daily</text>
<text x="116" y="417.5" font-size="12.2" textLength="215" lengthAdjust="spacingAndGlyphs" stroke="#000" stroke-width="0.3">rainfall: 24 hours to 9am on 28 Feb 2015</text>
<text x="151" y="430.7" font-size="10.2" textLength="145" lengthAdjust="spacingAndGlyphs" stroke="#000" stroke-width="0.3">Australian Bureau of Meteorology</text>
<text x="4.2" y="451.5" font-size="7.8" textLength="77.5" lengthAdjust="spacingAndGlyphs" stroke="#000" stroke-width="0.35">http://www.bom.gov.au</text>
<text x="0.4" y="465.5" font-size="7.7" textLength="238.4" lengthAdjust="spacingAndGlyphs" stroke="#000" stroke-width="0.35">© Commonwealth of Australia 2015, Australian Bureau of Meteorology</text>
<text x="615.7" y="465.5" font-size="7.6" textLength="63.4" lengthAdjust="spacingAndGlyphs" stroke="#000" stroke-width="0.35">Issued: 09/04/2015</text>
</g>

<!-- ===== logo ===== -->
<g id="logo">
<g id="crest"><polygon points="71.30,13.70 71.95,15.45 73.72,14.87 72.76,16.47 74.32,17.49 72.47,17.74 72.65,19.59 71.30,18.30 69.95,19.59 70.13,17.74 68.28,17.49 69.84,16.47 68.88,14.87 70.65,15.45" fill="#000"/>
<rect x="67.8" y="19.9" width="6.9" height="1.2" fill="#333"/>
<path fill="#000" d="M61.2,17.6 L62.5,19 L64.3,17.3 L64.7,19.5 L66,21.2 L64.6,22 L64.5,24 L65.9,27 L64.8,28.5 L64.6,31 L63.8,34 L63,37 L63.2,39.9 L59.8,39.9 L59.8,36.5 L58.6,36.2 L57.6,39.9 L54.5,39.9 L55.6,36.5 L55.3,33 L56,31 L58.4,27.5 L60.8,23.4 L61.8,20.5 Z"/>
<path fill="#000" d="M78.2,20.2 L79.6,19.2 L80.6,19 L81.7,20 L81.8,21.5 L81.2,24 L80.6,26.5 L81.5,27.6 L85.7,27 L88.5,29 L90.3,31.5 L91,33.8 L88.5,34.4 L87.6,34.8 L87.4,39.9 L85.6,39.9 L85.7,35 L84,34.8 L83.6,39.9 L81.9,39.9 L82,34 L79.5,32 L78.2,29.5 L77.9,27 L78.6,24 L79.6,21.5 L79.2,20.6 Z"/>
<path fill="#fff" stroke="#000" stroke-width="0.9" d="M65.3,24.4 H77 V31.5 Q77,35 71.15,36.8 Q65.3,35 65.3,31.5 Z"/>
<rect x="65.3" y="24" width="11.7" height="1.3" fill="#000"/>
<path stroke="#000" stroke-width="0.7" fill="none" d="M69.2,25 V30.5 M73.1,25 V30.5 M65.5,30.5 H76.8 M71.15,30.5 V36"/>
<g fill="#000" fill-opacity="0.85"><circle cx="69.4" cy="27.3" r="0.71"/><circle cx="66.8" cy="31.0" r="0.60"/><circle cx="66.6" cy="30.7" r="0.46"/><circle cx="70.6" cy="26.5" r="0.49"/><circle cx="70.5" cy="33.8" r="0.50"/><circle cx="68.3" cy="31.9" r="0.83"/><circle cx="72.1" cy="29.6" r="0.84"/><circle cx="69.0" cy="27.2" r="0.50"/><circle cx="69.2" cy="33.7" r="0.52"/><circle cx="72.1" cy="32.0" r="0.60"/><circle cx="71.8" cy="26.4" r="0.47"/><circle cx="68.2" cy="32.4" r="0.62"/><circle cx="69.3" cy="31.5" r="0.63"/><circle cx="69.1" cy="33.5" r="0.73"/><circle cx="68.6" cy="31.4" r="0.66"/><circle cx="75.2" cy="32.9" r="0.57"/><circle cx="76.3" cy="26.9" r="0.62"/><circle cx="73.9" cy="27.3" r="0.65"/><circle cx="66.4" cy="32.3" r="0.76"/><circle cx="72.0" cy="34.3" r="0.58"/><circle cx="73.3" cy="31.6" r="0.68"/><circle cx="70.8" cy="33.9" r="0.83"/><circle cx="71.0" cy="32.2" r="0.47"/><circle cx="73.4" cy="32.1" r="0.85"/><circle cx="74.6" cy="28.6" r="0.60"/><circle cx="73.0" cy="26.0" r="0.63"/><circle cx="67.8" cy="26.9" r="0.47"/><circle cx="74.1" cy="27.1" r="0.55"/><circle cx="70.1" cy="34.3" r="0.48"/><circle cx="70.7" cy="31.1" r="0.80"/><circle cx="68.9" cy="29.8" r="0.59"/><circle cx="67.6" cy="27.5" r="0.54"/><circle cx="68.5" cy="30.5" r="0.69"/><circle cx="68.8" cy="25.8" r="0.62"/><circle cx="69.9" cy="31.3" r="0.83"/><circle cx="73.3" cy="30.8" r="0.70"/><circle cx="73.1" cy="26.3" r="0.81"/><circle cx="74.4" cy="29.6" r="0.61"/><circle cx="67.1" cy="32.0" r="0.47"/><circle cx="66.7" cy="27.8" r="0.51"/><circle cx="69.6" cy="26.3" r="0.45"/><circle cx="67.6" cy="26.8" r="0.60"/><circle cx="72.4" cy="27.2" r="0.55"/><circle cx="69.6" cy="29.3" r="0.50"/><circle cx="70.9" cy="30.5" r="0.48"/><circle cx="67.1" cy="29.1" r="0.56"/><circle cx="74.7" cy="27.4" r="0.46"/><circle cx="76.0" cy="30.9" r="0.51"/><circle cx="71.7" cy="26.1" r="0.66"/><circle cx="73.3" cy="28.3" r="0.60"/><circle cx="67.8" cy="33.3" r="0.66"/><circle cx="74.2" cy="29.0" r="0.54"/><circle cx="74.6" cy="33.0" r="0.54"/><circle cx="71.4" cy="29.2" r="0.46"/><circle cx="66.3" cy="28.5" r="0.55"/><circle cx="70.7" cy="34.9" r="0.85"/><circle cx="76.0" cy="29.3" r="0.54"/><circle cx="68.4" cy="27.7" r="0.53"/><circle cx="72.6" cy="34.5" r="0.79"/><circle cx="71.0" cy="32.1" r="0.77"/><circle cx="66.9" cy="32.2" r="0.81"/><circle cx="74.2" cy="33.1" r="0.64"/><circle cx="67.9" cy="33.5" r="0.58"/><circle cx="70.2" cy="29.7" r="0.83"/><circle cx="73.6" cy="27.4" r="0.50"/><circle cx="74.5" cy="27.2" r="0.78"/><circle cx="69.7" cy="31.1" r="0.50"/><circle cx="72.8" cy="30.9" r="0.82"/><circle cx="70.6" cy="34.3" r="0.78"/><circle cx="68.2" cy="28.2" r="0.57"/></g>
<g fill="#000" fill-opacity="0.7"><circle cx="66.9" cy="37.0" r="0.44"/><circle cx="79.3" cy="35.6" r="0.51"/><circle cx="73.3" cy="38.8" r="0.50"/><circle cx="79.5" cy="36.5" r="0.54"/><circle cx="62.6" cy="38.2" r="0.41"/><circle cx="71.3" cy="37.8" r="0.54"/><circle cx="68.5" cy="36.6" r="0.54"/><circle cx="77.0" cy="34.1" r="0.55"/><circle cx="67.1" cy="35.1" r="0.62"/><circle cx="71.9" cy="36.8" r="0.62"/><circle cx="79.4" cy="36.1" r="0.56"/><circle cx="71.9" cy="36.5" r="0.59"/><circle cx="70.9" cy="36.6" r="0.52"/><circle cx="79.9" cy="37.6" r="0.66"/><circle cx="79.9" cy="35.0" r="0.55"/><circle cx="80.0" cy="38.5" r="0.40"/><circle cx="64.8" cy="36.1" r="0.38"/><circle cx="67.0" cy="33.9" r="0.58"/><circle cx="77.0" cy="38.8" r="0.40"/><circle cx="75.7" cy="37.4" r="0.40"/><circle cx="78.8" cy="39.2" r="0.43"/><circle cx="80.1" cy="35.8" r="0.52"/><circle cx="80.8" cy="38.4" r="0.41"/><circle cx="70.5" cy="36.5" r="0.47"/><circle cx="66.1" cy="35.4" r="0.60"/><circle cx="62.9" cy="36.8" r="0.50"/><circle cx="62.8" cy="35.5" r="0.57"/><circle cx="80.7" cy="38.2" r="0.69"/><circle cx="64.4" cy="35.1" r="0.36"/><circle cx="76.9" cy="35.1" r="0.40"/><circle cx="70.3" cy="38.9" r="0.64"/><circle cx="67.3" cy="34.4" r="0.67"/><circle cx="73.1" cy="37.6" r="0.38"/><circle cx="63.6" cy="37.6" r="0.50"/><circle cx="63.8" cy="39.0" r="0.57"/><circle cx="77.3" cy="34.0" r="0.65"/><circle cx="63.7" cy="38.6" r="0.51"/><circle cx="68.8" cy="36.8" r="0.67"/><circle cx="67.5" cy="34.3" r="0.53"/><circle cx="66.9" cy="34.1" r="0.41"/><circle cx="63.4" cy="34.7" r="0.46"/><circle cx="68.1" cy="38.0" r="0.45"/><circle cx="67.1" cy="33.6" r="0.61"/><circle cx="71.3" cy="39.0" r="0.39"/><circle cx="77.7" cy="36.0" r="0.52"/><circle cx="77.9" cy="35.8" r="0.53"/><circle cx="75.2" cy="39.3" r="0.47"/><circle cx="77.9" cy="37.7" r="0.57"/><circle cx="63.5" cy="34.3" r="0.37"/><circle cx="76.2" cy="35.0" r="0.41"/><circle cx="64.1" cy="38.5" r="0.65"/><circle cx="74.9" cy="35.2" r="0.43"/><circle cx="67.9" cy="36.2" r="0.41"/><circle cx="80.3" cy="39.2" r="0.54"/><circle cx="67.0" cy="39.2" r="0.46"/></g>
<path fill="#000" d="M43,39.6 H99.5 Q101,39.4 100.8,38.3 L101.3,40.2 Q100.8,41.4 99,41.3 H43.5 Q41.5,41.2 41.5,40 Q41.8,38.7 43,39.6 Z"/>
<path fill="#000" d="M55.8,34 Q53,39 44,39.8 L56,40 Z"/>
<g fill="#000" fill-opacity="0.75"><circle cx="49.9" cy="29.5" r="0.55"/><circle cx="48.5" cy="29.9" r="0.35"/><circle cx="49.0" cy="25.2" r="0.51"/><circle cx="49.3" cy="26.8" r="0.58"/><circle cx="51.0" cy="32.6" r="0.61"/><circle cx="52.4" cy="34.0" r="0.51"/><circle cx="49.4" cy="35.2" r="0.41"/><circle cx="52.4" cy="31.4" r="0.37"/><circle cx="51.7" cy="32.4" r="0.67"/><circle cx="48.0" cy="30.1" r="0.55"/><circle cx="53.3" cy="33.2" r="0.68"/><circle cx="51.4" cy="34.2" r="0.62"/><circle cx="52.2" cy="26.8" r="0.36"/><circle cx="48.0" cy="28.2" r="0.39"/><circle cx="53.3" cy="30.5" r="0.60"/><circle cx="51.7" cy="31.8" r="0.55"/><circle cx="52.6" cy="29.8" r="0.56"/><circle cx="51.9" cy="24.9" r="0.64"/><circle cx="49.0" cy="32.4" r="0.43"/><circle cx="50.7" cy="28.5" r="0.54"/><circle cx="52.1" cy="32.8" r="0.60"/><circle cx="51.8" cy="25.1" r="0.41"/><circle cx="48.9" cy="32.5" r="0.47"/><circle cx="51.3" cy="24.3" r="0.37"/><circle cx="49.0" cy="31.7" r="0.63"/><circle cx="52.1" cy="27.5" r="0.56"/><circle cx="50.5" cy="29.4" r="0.40"/><circle cx="50.4" cy="27.2" r="0.43"/><circle cx="51.4" cy="25.8" r="0.56"/><circle cx="53.2" cy="29.9" r="0.70"/><circle cx="52.3" cy="26.8" r="0.71"/><circle cx="50.6" cy="24.5" r="0.35"/><circle cx="50.7" cy="29.2" r="0.47"/><circle cx="48.1" cy="28.1" r="0.48"/><circle cx="52.6" cy="33.6" r="0.40"/><circle cx="49.8" cy="28.6" r="0.75"/><circle cx="51.4" cy="28.2" r="0.52"/><circle cx="49.1" cy="34.7" r="0.45"/><circle cx="49.0" cy="29.9" r="0.43"/><circle cx="49.8" cy="34.9" r="0.70"/><circle cx="53.1" cy="31.3" r="0.72"/><circle cx="54.1" cy="30.4" r="0.64"/><circle cx="50.4" cy="32.6" r="0.61"/><circle cx="50.5" cy="28.0" r="0.47"/><circle cx="49.0" cy="31.5" r="0.47"/><circle cx="51.2" cy="28.6" r="0.42"/><circle cx="48.2" cy="26.5" r="0.71"/><circle cx="50.7" cy="26.7" r="0.71"/><circle cx="47.7" cy="28.0" r="0.39"/><circle cx="48.8" cy="27.1" r="0.58"/><circle cx="53.7" cy="32.6" r="0.52"/><circle cx="50.1" cy="30.1" r="0.50"/><circle cx="49.5" cy="24.9" r="0.46"/><circle cx="50.8" cy="31.3" r="0.70"/><circle cx="48.6" cy="27.2" r="0.45"/></g>
<path stroke="#000" stroke-width="0.7" fill="none" d="M50.5,25 L50.8,36 M93,25 L92.6,36"/>
<g fill="#000" fill-opacity="0.7"><circle cx="47.3" cy="37.0" r="0.73"/><circle cx="53.8" cy="38.8" r="0.36"/><circle cx="42.0" cy="38.1" r="0.71"/><circle cx="48.4" cy="37.6" r="0.35"/><circle cx="47.2" cy="39.1" r="0.68"/><circle cx="53.9" cy="39.3" r="0.45"/><circle cx="43.1" cy="35.7" r="0.56"/><circle cx="51.4" cy="39.1" r="0.64"/><circle cx="50.9" cy="38.4" r="0.53"/><circle cx="49.5" cy="35.2" r="0.66"/><circle cx="44.9" cy="39.0" r="0.61"/><circle cx="45.9" cy="35.6" r="0.45"/><circle cx="50.7" cy="38.1" r="0.39"/><circle cx="42.5" cy="37.3" r="0.58"/><circle cx="47.1" cy="36.0" r="0.59"/><circle cx="41.7" cy="36.3" r="0.53"/><circle cx="55.4" cy="37.8" r="0.70"/><circle cx="48.4" cy="36.0" r="0.45"/><circle cx="55.4" cy="38.1" r="0.47"/><circle cx="41.8" cy="37.2" r="0.62"/><circle cx="47.6" cy="36.1" r="0.62"/><circle cx="54.9" cy="36.0" r="0.36"/><circle cx="46.4" cy="36.9" r="0.62"/><circle cx="44.4" cy="38.5" r="0.65"/><circle cx="48.8" cy="35.9" r="0.74"/><circle cx="46.0" cy="38.6" r="0.44"/><circle cx="44.7" cy="38.3" r="0.47"/><circle cx="55.3" cy="37.2" r="0.42"/><circle cx="44.7" cy="36.8" r="0.62"/><circle cx="55.3" cy="35.6" r="0.51"/><circle cx="44.6" cy="39.3" r="0.41"/><circle cx="42.3" cy="35.3" r="0.51"/><circle cx="54.5" cy="38.9" r="0.64"/><circle cx="56.0" cy="39.1" r="0.48"/><circle cx="44.2" cy="39.1" r="0.65"/><circle cx="42.0" cy="37.9" r="0.50"/><circle cx="46.9" cy="36.5" r="0.42"/><circle cx="41.5" cy="36.2" r="0.49"/><circle cx="55.4" cy="35.5" r="0.74"/><circle cx="44.5" cy="36.6" r="0.68"/><circle cx="53.4" cy="36.9" r="0.37"/><circle cx="48.4" cy="36.6" r="0.72"/><circle cx="44.3" cy="36.6" r="0.71"/><circle cx="41.9" cy="36.8" r="0.67"/><circle cx="52.6" cy="35.2" r="0.36"/><circle cx="42.4" cy="39.0" r="0.45"/><circle cx="52.3" cy="39.0" r="0.49"/><circle cx="45.4" cy="39.2" r="0.60"/><circle cx="45.3" cy="38.2" r="0.48"/><circle cx="45.5" cy="35.0" r="0.65"/><circle cx="54.8" cy="37.8" r="0.73"/><circle cx="41.9" cy="36.0" r="0.54"/><circle cx="55.4" cy="39.2" r="0.50"/><circle cx="45.1" cy="36.9" r="0.55"/><circle cx="55.0" cy="35.8" r="0.67"/></g>
<g fill="#000" fill-opacity="0.75"><circle cx="94.2" cy="31.9" r="0.66"/><circle cx="93.2" cy="27.2" r="0.48"/><circle cx="91.3" cy="31.5" r="0.38"/><circle cx="94.0" cy="28.4" r="0.44"/><circle cx="91.7" cy="30.0" r="0.62"/><circle cx="94.3" cy="32.1" r="0.62"/><circle cx="90.8" cy="29.5" r="0.50"/><circle cx="94.2" cy="26.1" r="0.45"/><circle cx="95.3" cy="29.6" r="0.48"/><circle cx="92.4" cy="26.4" r="0.67"/><circle cx="93.5" cy="33.4" r="0.39"/><circle cx="92.2" cy="31.8" r="0.69"/><circle cx="93.0" cy="32.9" r="0.50"/><circle cx="95.2" cy="28.4" r="0.45"/><circle cx="94.5" cy="33.0" r="0.39"/><circle cx="93.1" cy="30.0" r="0.44"/><circle cx="91.3" cy="25.5" r="0.43"/><circle cx="90.5" cy="29.8" r="0.61"/><circle cx="91.0" cy="30.5" r="0.42"/><circle cx="90.9" cy="26.1" r="0.67"/><circle cx="92.7" cy="24.8" r="0.39"/><circle cx="91.5" cy="29.3" r="0.61"/><circle cx="93.9" cy="28.0" r="0.46"/><circle cx="90.9" cy="29.5" r="0.49"/><circle cx="91.7" cy="32.2" r="0.75"/><circle cx="91.3" cy="26.0" r="0.64"/><circle cx="95.4" cy="28.1" r="0.68"/><circle cx="91.6" cy="32.4" r="0.53"/><circle cx="92.7" cy="30.2" r="0.71"/><circle cx="91.4" cy="28.9" r="0.41"/><circle cx="90.7" cy="29.0" r="0.72"/><circle cx="92.2" cy="24.7" r="0.72"/><circle cx="91.5" cy="32.6" r="0.60"/><circle cx="94.8" cy="25.7" r="0.66"/><circle cx="90.2" cy="28.0" r="0.69"/><circle cx="94.9" cy="25.9" r="0.44"/><circle cx="91.6" cy="29.0" r="0.50"/><circle cx="94.1" cy="32.5" r="0.37"/><circle cx="92.8" cy="31.2" r="0.37"/><circle cx="95.0" cy="25.3" r="0.59"/><circle cx="92.7" cy="30.0" r="0.47"/><circle cx="91.7" cy="29.6" r="0.52"/><circle cx="93.6" cy="28.4" r="0.53"/><circle cx="92.3" cy="26.4" r="0.66"/><circle cx="94.5" cy="28.5" r="0.42"/><circle cx="92.1" cy="25.2" r="0.40"/><circle cx="91.8" cy="25.1" r="0.53"/><circle cx="92.4" cy="24.6" r="0.60"/></g>
<g fill="#000" fill-opacity="0.7"><circle cx="89.5" cy="38.1" r="0.66"/><circle cx="94.6" cy="35.2" r="0.55"/><circle cx="93.0" cy="39.0" r="0.40"/><circle cx="98.8" cy="39.2" r="0.64"/><circle cx="98.3" cy="35.8" r="0.74"/><circle cx="94.4" cy="39.0" r="0.72"/><circle cx="90.5" cy="38.3" r="0.72"/><circle cx="89.3" cy="36.5" r="0.65"/><circle cx="90.4" cy="38.8" r="0.46"/><circle cx="98.3" cy="35.6" r="0.55"/><circle cx="99.5" cy="35.9" r="0.46"/><circle cx="94.6" cy="36.3" r="0.36"/><circle cx="90.7" cy="35.7" r="0.72"/><circle cx="96.7" cy="38.8" r="0.42"/><circle cx="97.9" cy="35.5" r="0.56"/><circle cx="96.1" cy="36.5" r="0.70"/><circle cx="95.2" cy="37.4" r="0.70"/><circle cx="89.8" cy="39.2" r="0.60"/><circle cx="93.2" cy="38.4" r="0.46"/><circle cx="100.4" cy="37.4" r="0.49"/><circle cx="97.7" cy="36.9" r="0.42"/><circle cx="97.4" cy="35.2" r="0.68"/><circle cx="91.5" cy="37.7" r="0.74"/><circle cx="95.5" cy="37.8" r="0.48"/><circle cx="88.5" cy="35.1" r="0.41"/><circle cx="95.9" cy="36.8" r="0.56"/><circle cx="99.2" cy="35.6" r="0.44"/><circle cx="96.3" cy="35.1" r="0.35"/><circle cx="92.8" cy="35.4" r="0.49"/><circle cx="91.2" cy="37.5" r="0.59"/><circle cx="91.0" cy="37.6" r="0.54"/><circle cx="90.1" cy="38.9" r="0.45"/><circle cx="90.3" cy="35.4" r="0.61"/><circle cx="99.0" cy="38.3" r="0.51"/><circle cx="91.7" cy="35.0" r="0.61"/><circle cx="95.2" cy="36.5" r="0.61"/><circle cx="93.8" cy="38.9" r="0.64"/><circle cx="91.5" cy="38.8" r="0.37"/><circle cx="94.9" cy="36.7" r="0.45"/><circle cx="89.2" cy="38.3" r="0.35"/><circle cx="95.1" cy="39.0" r="0.41"/><circle cx="90.9" cy="37.6" r="0.55"/><circle cx="96.2" cy="38.4" r="0.42"/><circle cx="92.2" cy="36.3" r="0.37"/><circle cx="99.2" cy="38.3" r="0.64"/><circle cx="88.6" cy="38.5" r="0.65"/><circle cx="94.1" cy="38.1" r="0.53"/><circle cx="91.2" cy="35.4" r="0.44"/><circle cx="89.0" cy="36.4" r="0.65"/><circle cx="96.8" cy="38.6" r="0.63"/></g>
<g fill="#000" fill-opacity="0.65"><circle cx="48.1" cy="48.7" r="0.52"/><circle cx="57.9" cy="48.4" r="0.46"/><circle cx="55.1" cy="52.9" r="0.44"/><circle cx="59.6" cy="43.2" r="0.45"/><circle cx="47.6" cy="50.7" r="0.73"/><circle cx="57.1" cy="46.4" r="0.70"/><circle cx="49.3" cy="45.5" r="0.71"/><circle cx="54.9" cy="50.1" r="0.62"/><circle cx="61.4" cy="47.8" r="0.69"/><circle cx="56.2" cy="51.8" r="0.52"/><circle cx="56.7" cy="48.9" r="0.47"/><circle cx="47.1" cy="49.4" r="0.38"/><circle cx="60.1" cy="44.5" r="0.36"/><circle cx="49.6" cy="44.5" r="0.36"/><circle cx="55.0" cy="50.2" r="0.64"/><circle cx="44.4" cy="49.1" r="0.50"/><circle cx="58.4" cy="51.4" r="0.71"/><circle cx="45.2" cy="45.1" r="0.39"/><circle cx="58.3" cy="49.5" r="0.68"/><circle cx="54.9" cy="46.0" r="0.39"/><circle cx="47.0" cy="46.3" r="0.52"/><circle cx="43.6" cy="45.6" r="0.46"/><circle cx="56.5" cy="46.8" r="0.48"/><circle cx="61.1" cy="48.2" r="0.69"/><circle cx="54.7" cy="43.3" r="0.52"/><circle cx="51.3" cy="51.0" r="0.49"/><circle cx="56.3" cy="48.5" r="0.44"/><circle cx="59.2" cy="43.9" r="0.68"/><circle cx="46.4" cy="43.0" r="0.43"/><circle cx="57.4" cy="53.1" r="0.35"/><circle cx="52.3" cy="48.1" r="0.67"/><circle cx="46.6" cy="48.1" r="0.49"/><circle cx="58.7" cy="45.7" r="0.73"/><circle cx="48.5" cy="45.2" r="0.63"/><circle cx="52.5" cy="44.1" r="0.60"/><circle cx="56.2" cy="51.1" r="0.60"/><circle cx="49.8" cy="47.1" r="0.51"/><circle cx="59.8" cy="43.9" r="0.71"/><circle cx="43.7" cy="45.1" r="0.46"/><circle cx="60.0" cy="48.2" r="0.50"/><circle cx="59.6" cy="45.4" r="0.53"/><circle cx="53.1" cy="50.8" r="0.65"/><circle cx="55.2" cy="46.6" r="0.48"/><circle cx="55.5" cy="50.6" r="0.42"/><circle cx="51.4" cy="51.0" r="0.58"/><circle cx="45.5" cy="47.8" r="0.70"/><circle cx="47.6" cy="45.0" r="0.47"/><circle cx="56.3" cy="51.7" r="0.41"/><circle cx="46.1" cy="45.6" r="0.48"/><circle cx="52.9" cy="44.7" r="0.48"/><circle cx="56.8" cy="44.0" r="0.73"/><circle cx="45.1" cy="47.0" r="0.74"/><circle cx="58.0" cy="50.6" r="0.52"/><circle cx="46.8" cy="49.6" r="0.39"/><circle cx="47.0" cy="47.0" r="0.36"/><circle cx="50.6" cy="51.1" r="0.63"/><circle cx="52.5" cy="49.5" r="0.54"/><circle cx="45.8" cy="49.2" r="0.51"/><circle cx="57.0" cy="52.4" r="0.52"/><circle cx="53.9" cy="50.7" r="0.52"/></g>
<g fill="#000" fill-opacity="0.65"><circle cx="86.5" cy="50.4" r="0.70"/><circle cx="94.8" cy="50.2" r="0.69"/><circle cx="93.3" cy="49.6" r="0.53"/><circle cx="87.8" cy="49.5" r="0.39"/><circle cx="89.4" cy="51.1" r="0.64"/><circle cx="92.6" cy="45.6" r="0.52"/><circle cx="89.9" cy="49.4" r="0.51"/><circle cx="93.3" cy="52.6" r="0.42"/><circle cx="92.9" cy="51.0" r="0.51"/><circle cx="90.4" cy="53.0" r="0.37"/><circle cx="91.3" cy="44.7" r="0.66"/><circle cx="97.3" cy="48.3" r="0.39"/><circle cx="91.7" cy="48.6" r="0.64"/><circle cx="90.8" cy="49.6" r="0.68"/><circle cx="90.9" cy="47.2" r="0.73"/><circle cx="86.2" cy="50.0" r="0.51"/><circle cx="94.6" cy="44.3" r="0.74"/><circle cx="88.4" cy="43.6" r="0.46"/><circle cx="89.1" cy="43.1" r="0.52"/><circle cx="89.4" cy="50.2" r="0.49"/><circle cx="87.0" cy="45.3" r="0.65"/><circle cx="97.3" cy="48.4" r="0.44"/><circle cx="95.2" cy="47.0" r="0.43"/><circle cx="85.0" cy="51.0" r="0.67"/><circle cx="92.6" cy="47.8" r="0.57"/><circle cx="86.4" cy="52.9" r="0.49"/><circle cx="92.7" cy="51.4" r="0.68"/><circle cx="90.1" cy="46.0" r="0.57"/><circle cx="84.9" cy="51.6" r="0.49"/><circle cx="95.9" cy="45.8" r="0.50"/><circle cx="86.9" cy="47.4" r="0.42"/><circle cx="83.0" cy="50.4" r="0.46"/><circle cx="86.7" cy="46.1" r="0.54"/><circle cx="89.5" cy="49.6" r="0.61"/><circle cx="88.5" cy="52.6" r="0.69"/><circle cx="83.9" cy="51.5" r="0.71"/><circle cx="94.9" cy="44.4" r="0.68"/><circle cx="92.6" cy="43.2" r="0.35"/><circle cx="97.5" cy="49.8" r="0.45"/><circle cx="84.5" cy="44.5" r="0.44"/><circle cx="94.8" cy="46.6" r="0.41"/><circle cx="85.6" cy="52.2" r="0.59"/><circle cx="94.9" cy="49.9" r="0.71"/><circle cx="95.0" cy="51.6" r="0.43"/><circle cx="93.5" cy="48.5" r="0.65"/><circle cx="89.7" cy="52.1" r="0.57"/><circle cx="87.0" cy="45.4" r="0.41"/><circle cx="90.5" cy="43.6" r="0.54"/><circle cx="85.2" cy="48.1" r="0.55"/><circle cx="91.2" cy="51.9" r="0.35"/><circle cx="95.8" cy="47.8" r="0.58"/><circle cx="93.1" cy="51.7" r="0.50"/></g>
<g fill="#000" fill-opacity="0.75"><circle cx="70.7" cy="47.8" r="0.38"/><circle cx="75.3" cy="45.8" r="0.36"/><circle cx="74.7" cy="46.1" r="0.72"/><circle cx="68.8" cy="47.9" r="0.55"/><circle cx="72.1" cy="47.4" r="0.36"/><circle cx="77.0" cy="45.8" r="0.49"/><circle cx="80.1" cy="44.2" r="0.54"/><circle cx="72.9" cy="46.6" r="0.43"/><circle cx="71.0" cy="44.5" r="0.57"/><circle cx="79.3" cy="43.8" r="0.68"/><circle cx="70.4" cy="45.0" r="0.46"/><circle cx="72.5" cy="47.8" r="0.61"/><circle cx="78.6" cy="44.0" r="0.48"/><circle cx="68.1" cy="45.5" r="0.60"/><circle cx="78.4" cy="42.2" r="0.64"/><circle cx="80.6" cy="45.3" r="0.37"/><circle cx="68.2" cy="42.0" r="0.43"/><circle cx="81.3" cy="45.7" r="0.61"/><circle cx="78.5" cy="47.5" r="0.59"/><circle cx="74.9" cy="45.8" r="0.63"/><circle cx="74.4" cy="46.1" r="0.44"/><circle cx="75.9" cy="44.7" r="0.66"/><circle cx="63.9" cy="43.1" r="0.36"/><circle cx="78.2" cy="47.5" r="0.61"/><circle cx="69.6" cy="46.9" r="0.66"/><circle cx="73.7" cy="43.5" r="0.47"/><circle cx="70.7" cy="43.9" r="0.52"/><circle cx="75.4" cy="47.6" r="0.37"/><circle cx="73.8" cy="42.2" r="0.40"/><circle cx="79.0" cy="45.5" r="0.72"/><circle cx="71.3" cy="42.1" r="0.50"/><circle cx="74.3" cy="47.6" r="0.74"/><circle cx="71.9" cy="44.5" r="0.39"/><circle cx="75.5" cy="43.3" r="0.41"/><circle cx="62.1" cy="42.0" r="0.62"/><circle cx="64.4" cy="47.8" r="0.39"/><circle cx="80.2" cy="42.8" r="0.36"/><circle cx="77.1" cy="43.5" r="0.64"/><circle cx="65.8" cy="42.3" r="0.66"/><circle cx="76.9" cy="47.1" r="0.64"/><circle cx="63.6" cy="45.8" r="0.63"/><circle cx="71.6" cy="47.6" r="0.45"/><circle cx="82.2" cy="46.3" r="0.35"/><circle cx="62.1" cy="45.9" r="0.68"/><circle cx="63.5" cy="43.9" r="0.64"/><circle cx="65.3" cy="47.2" r="0.54"/><circle cx="63.1" cy="44.2" r="0.58"/><circle cx="71.1" cy="46.1" r="0.41"/><circle cx="78.7" cy="44.2" r="0.61"/><circle cx="75.1" cy="44.5" r="0.50"/><circle cx="78.5" cy="47.7" r="0.66"/><circle cx="73.8" cy="43.8" r="0.37"/><circle cx="82.4" cy="46.2" r="0.68"/><circle cx="68.8" cy="45.6" r="0.74"/><circle cx="79.4" cy="45.6" r="0.47"/><circle cx="70.9" cy="47.3" r="0.50"/><circle cx="76.3" cy="45.6" r="0.71"/><circle cx="78.9" cy="43.7" r="0.35"/><circle cx="67.4" cy="44.5" r="0.58"/><circle cx="79.1" cy="47.3" r="0.37"/><circle cx="79.5" cy="46.9" r="0.70"/><circle cx="73.9" cy="43.6" r="0.69"/><circle cx="78.9" cy="46.1" r="0.72"/><circle cx="69.2" cy="42.5" r="0.57"/><circle cx="78.7" cy="43.2" r="0.65"/></g>
<rect x="60" y="48" width="23" height="4" fill="#fff" stroke="#000" stroke-width="0.8"/>
<g fill="#000" fill-opacity="0.8"><circle cx="80.6" cy="49.4" r="0.58"/><circle cx="75.2" cy="49.9" r="0.46"/><circle cx="66.3" cy="50.6" r="0.64"/><circle cx="70.7" cy="49.0" r="0.64"/><circle cx="77.2" cy="49.4" r="0.57"/><circle cx="79.8" cy="50.9" r="0.56"/><circle cx="71.0" cy="50.2" r="0.46"/><circle cx="65.0" cy="49.2" r="0.61"/><circle cx="68.6" cy="50.2" r="0.52"/><circle cx="71.9" cy="49.2" r="0.41"/><circle cx="81.9" cy="49.7" r="0.43"/><circle cx="74.3" cy="50.7" r="0.45"/><circle cx="73.5" cy="49.6" r="0.56"/><circle cx="61.4" cy="48.9" r="0.70"/><circle cx="79.2" cy="50.0" r="0.57"/><circle cx="66.5" cy="50.7" r="0.53"/><circle cx="80.9" cy="50.6" r="0.65"/><circle cx="81.2" cy="49.4" r="0.41"/><circle cx="65.2" cy="49.2" r="0.43"/><circle cx="62.1" cy="50.1" r="0.66"/><circle cx="70.6" cy="51.1" r="0.67"/><circle cx="62.3" cy="50.2" r="0.52"/><circle cx="63.5" cy="51.1" r="0.48"/><circle cx="72.9" cy="50.3" r="0.69"/><circle cx="75.1" cy="49.7" r="0.53"/><circle cx="64.4" cy="51.1" r="0.70"/><circle cx="65.7" cy="48.9" r="0.48"/><circle cx="68.4" cy="51.0" r="0.67"/><circle cx="78.6" cy="48.9" r="0.64"/><circle cx="75.9" cy="50.4" r="0.70"/><circle cx="62.2" cy="49.1" r="0.63"/><circle cx="80.7" cy="50.4" r="0.49"/><circle cx="73.4" cy="50.6" r="0.43"/><circle cx="67.8" cy="49.4" r="0.44"/><circle cx="71.1" cy="49.2" r="0.47"/><circle cx="64.0" cy="50.4" r="0.40"/><circle cx="76.1" cy="49.3" r="0.41"/><circle cx="80.5" cy="49.3" r="0.68"/><circle cx="79.2" cy="50.9" r="0.44"/><circle cx="70.4" cy="49.0" r="0.68"/></g>
<g fill="#000" fill-opacity="0.85"><circle cx="75.5" cy="54.9" r="0.58"/><circle cx="69.2" cy="55.7" r="0.59"/><circle cx="72.9" cy="52.9" r="0.49"/><circle cx="71.9" cy="52.9" r="0.75"/><circle cx="68.3" cy="54.0" r="0.46"/><circle cx="68.4" cy="55.7" r="0.53"/><circle cx="67.1" cy="54.3" r="0.53"/><circle cx="76.3" cy="52.8" r="0.79"/><circle cx="73.4" cy="53.2" r="0.59"/><circle cx="68.6" cy="53.4" r="0.48"/><circle cx="69.6" cy="56.4" r="0.80"/><circle cx="76.6" cy="52.7" r="0.52"/><circle cx="76.2" cy="52.5" r="0.69"/><circle cx="68.7" cy="56.3" r="0.41"/><circle cx="75.1" cy="53.7" r="0.46"/><circle cx="71.6" cy="53.1" r="0.57"/><circle cx="76.4" cy="53.2" r="0.63"/><circle cx="66.7" cy="53.0" r="0.71"/><circle cx="73.9" cy="53.1" r="0.43"/><circle cx="66.1" cy="54.8" r="0.60"/><circle cx="68.4" cy="53.1" r="0.64"/><circle cx="73.8" cy="55.6" r="0.63"/><circle cx="67.5" cy="52.6" r="0.69"/><circle cx="70.1" cy="55.3" r="0.42"/><circle cx="75.1" cy="53.7" r="0.74"/><circle cx="75.8" cy="54.3" r="0.41"/><circle cx="76.4" cy="54.3" r="0.75"/><circle cx="68.3" cy="53.1" r="0.73"/><circle cx="69.6" cy="53.0" r="0.55"/><circle cx="72.4" cy="52.3" r="0.61"/><circle cx="70.6" cy="54.4" r="0.45"/><circle cx="73.9" cy="55.6" r="0.75"/><circle cx="69.0" cy="55.2" r="0.55"/><circle cx="74.4" cy="52.6" r="0.75"/><circle cx="76.9" cy="54.3" r="0.61"/><circle cx="71.6" cy="54.5" r="0.41"/><circle cx="77.1" cy="53.2" r="0.47"/><circle cx="66.3" cy="53.3" r="0.73"/><circle cx="65.4" cy="52.7" r="0.68"/><circle cx="67.4" cy="52.4" r="0.64"/></g>
<path stroke="#000" stroke-width="0.7" fill="none" d="M71.2,41.5 V48"/></g>
<text class="serif" x="14.6" y="71.2" font-size="12.6" textLength="113.4" lengthAdjust="spacingAndGlyphs" stroke="#000" stroke-width="0.25">Australian Government</text>
<rect x="14.2" y="76" width="114.3" height="1" fill="#444"/>
<text class="serif" x="21" y="89.3" font-size="11" textLength="100.5" lengthAdjust="spacingAndGlyphs" stroke="#000" stroke-width="0.2">Bureau of Meteorology</text>
</g>

<!-- ===== frame ===== -->
<g id="frame">
<rect x="0" y="0" width="680" height="1" fill="#707070"/>
<rect x="0" y="0" width="1" height="456" fill="#707070"/>
<rect x="679" y="0" width="1" height="456" fill="#888"/>
<rect x="0" y="454.8" width="680" height="1.4" fill="#888"/>
</g>
</svg>
</body>
</html>
